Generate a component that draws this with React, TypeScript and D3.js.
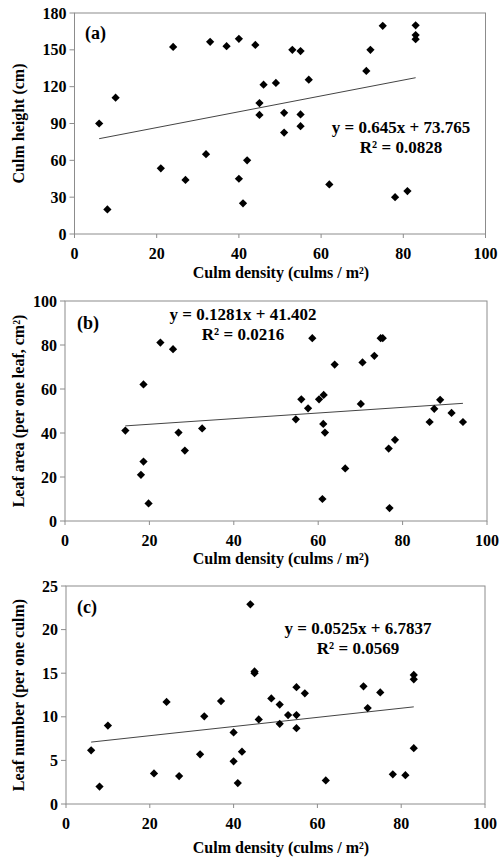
import * as d3 from "d3";

// culm density shared by panels (a) and (c)
const density = [6, 8, 10, 21, 24, 27, 32, 33, 37, 40, 40, 41, 42, 44, 45, 45, 46, 49, 51, 51, 53, 55, 55, 55, 57, 62, 71, 72, 75, 78, 81, 83, 83, 83];
const culmHeight = [90, 20, 111, 53.5, 152.4, 44, 65, 156.5, 153, 159, 45, 25, 60, 154, 106.6, 97, 121.6, 123, 98.7, 82.6, 150, 149, 97.4, 87.8, 125.7, 40.4, 132.8, 150, 169.6, 30, 35, 170, 162, 158.7];
const leafNumber = [6.15, 2.0, 9.0, 3.5, 11.7, 3.2, 5.7, 10.05, 11.8, 8.2, 4.9, 2.4, 6.0, 22.9, 15.0, 15.2, 9.7, 12.1, 11.4, 9.2, 10.2, 13.4, 10.2, 8.7, 12.7, 2.7, 13.5, 11.0, 12.8, 3.4, 3.3, 14.8, 14.3, 6.4];

// panel (b) has its own density values
const densityB = [14.3, 18.6, 18.0, 18.6, 19.8, 22.6, 25.6, 26.9, 28.4, 32.5, 58.6, 63.9, 56.0, 57.6, 54.7, 60.2, 61.3, 61.2, 61.6, 61.0, 66.4, 70.1, 70.5, 73.3, 74.8, 75.3, 76.7, 78.2, 76.9, 86.4, 87.5, 88.9, 91.6, 94.3];
const leafArea = [41.1, 62.1, 21, 27, 8, 81.1, 78.1, 40.2, 32, 42.1, 83.1, 71.1, 55.3, 51.2, 46.2, 55.3, 57.3, 44.1, 40.2, 10, 23.9, 53.2, 72.1, 75.1, 83.1, 83.1, 32.9, 36.9, 5.9, 45, 51, 55.1, 49.1, 45];

const xTicks = [0, 20, 40, 60, 80, 100];

const FONT = "'Liberation Serif', 'Times New Roman', serif";
const AXIS = "#8c8c8c";

type Panel = {
  label: string;
  xs: number[];
  ys: number[];
  yMax: number;
  yStep: number;
  yTitle: string;
  slope: number;
  intercept: number;
  eq: string;
  r2: string;
  box: { left: number; right: number; top: number; bottom: number };
  eqPos: [number, number];
  labelPos: [number, number];
  titleY: number;
};

const panels: Panel[] = [
  {
    label: "(a)", xs: density, ys: culmHeight, yMax: 180, yStep: 30,
    yTitle: "Culm height (cm)", slope: 0.645, intercept: 73.765,
    eq: "y = 0.645x + 73.765", r2: "R² = 0.0828",
    box: { left: 74.5, right: 485.5, top: 13, bottom: 234 },
    eqPos: [401, 127], labelPos: [85, 33], titleY: 272,
  },
  {
    label: "(b)", xs: densityB, ys: leafArea, yMax: 100, yStep: 20,
    yTitle: "Leaf area (per one leaf, cm²)", slope: 0.1281, intercept: 41.402,
    eq: "y = 0.1281x + 41.402", r2: "R² = 0.0216",
    box: { left: 65, right: 487, top: 301, bottom: 521 },
    eqPos: [243, 314], labelPos: [77, 323], titleY: 558,
  },
  {
    label: "(c)", xs: density, ys: leafNumber, yMax: 25, yStep: 5,
    yTitle: "Leaf number (per one culm)", slope: 0.0525, intercept: 6.7837,
    eq: "y = 0.0525x + 6.7837", r2: "R² = 0.0569",
    box: { left: 66, right: 485, top: 586, bottom: 804 },
    eqPos: [358, 628], labelPos: [77, 607], titleY: 847,
  },
];

const diamond = d3.symbol(d3.symbolSquare, 34)() ?? "";

function ScatterPanel({ p }: { p: Panel }) {
  const { box } = p;
  const x = d3.scaleLinear().domain([0, 100]).range([box.left, box.right]);
  const y = d3.scaleLinear().domain([0, p.yMax]).range([box.bottom, box.top]);
  const yTicks = d3.range(0, p.yMax + p.yStep / 2, p.yStep);
  const [x0, x1] = d3.extent(p.xs) as [number, number];
  const fit = d3.line<number>().x((v) => x(v)).y((v) => y(p.slope * v + p.intercept));
  const midY = (box.top + box.bottom) / 2;

  return (
    <g fontFamily={FONT} fontWeight="bold" fill="#000">
      <rect x={box.left} y={box.top} width={box.right - box.left} height={box.bottom - box.top} fill="none" stroke={AXIS} strokeWidth={1} />
      {yTicks.map((t) => (
        <g key={"y" + t}>
          <line x1={box.left - 5} x2={box.left} y1={y(t)} y2={y(t)} stroke={AXIS} />
          <text x={box.left - 8} y={y(t)} dy="0.35em" textAnchor="end" fontSize={16}>{t}</text>
        </g>
      ))}
      {xTicks.map((t) => (
        <g key={"x" + t}>
          <line x1={x(t)} x2={x(t)} y1={box.bottom} y2={box.bottom + 4} stroke={AXIS} />
          <text x={x(t)} y={box.bottom + 19} dy="0.35em" textAnchor="middle" fontSize={16}>{t}</text>
        </g>
      ))}
      <path d={fit([x0, x1]) ?? ""} fill="none" stroke="#444" strokeWidth={1} />
      {p.xs.map((v, i) => (
        <path key={i} d={diamond} transform={`translate(${x(v)},${y(p.ys[i])}) rotate(45)`} fill="#000" />
      ))}
      <text x={p.labelPos[0]} y={p.labelPos[1]} dy="0.35em" fontSize={18}>{p.label}</text>
      <text x={p.eqPos[0]} y={p.eqPos[1]} dy="0.35em" textAnchor="middle" fontSize={17}>{p.eq}</text>
      <text x={p.eqPos[0]} y={p.eqPos[1] + 20} dy="0.35em" textAnchor="middle" fontSize={17}>{p.r2}</text>
      <text x={281} y={p.titleY} dy="0.35em" textAnchor="middle" fontSize={16}>Culm density (culms / m²)</text>
      <text transform={`translate(18,${midY}) rotate(-90)`} dy="0.35em" textAnchor="middle" fontSize={16}>{p.yTitle}</text>
    </g>
  );
}

export default function App() {
  return (
    <svg width={500} height={861} style={{ position: "absolute", left: 0, top: 0, background: "#fff" }}>
      <rect width={500} height={861} fill="#fff" />
      {panels.map((p) => (
        <ScatterPanel key={p.label} p={p} />
      ))}
    </svg>
  );
}
